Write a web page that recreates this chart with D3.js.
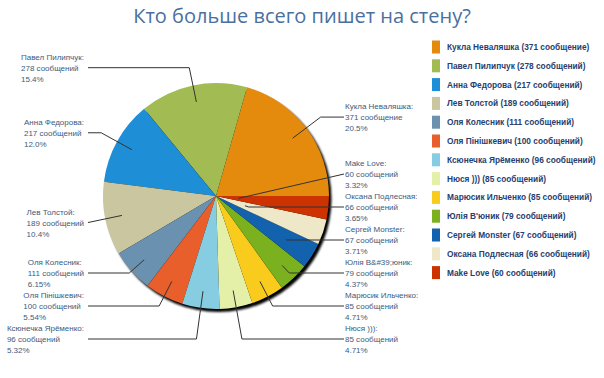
<!DOCTYPE html>
<html>
<head>
<meta charset="utf-8">
<script src="https://cdn.jsdelivr.net/npm/d3@7"></script>
<style>
  body { margin: 0; background: #fff; }
</style>
</head>
<body>
<div id="chart"></div>
<script>
// Chart data
const title = "Кто больше всего пишет на стену?";
const names = ["Кукла Неваляшка", "Павел Пилипчук", "Анна Федорова", "Лев Толстой", "Оля Колесник",
  "Оля Пінішкевич", "Ксюнечка Ярёменко", "Нюся )))", "Марюсик Ильченко", "Юлія В'юник",
  "Сергей Monster", "Оксана Подлесная", "Make Love"];
const counts = [371, 278, 217, 189, 111, 100, 96, 85, 85, 79, 67, 66, 60];
const colors = ["#e48b0d", "#a2bb53", "#1e8fd6", "#c9c6a0", "#6a92b0", "#e95f2b", "#86cde2",
  "#e4f0a8", "#f8cb1c", "#7bb11e", "#1262ae", "#eee8c8", "#cc3300"];

// Layout
const width = 604, height = 378;
const cx = 216, cy = 196, radius = 113;
const lineGap = 11, labelGap = 33, labelMaxY = 339;
const anchorOverride = { "Сергей Monster": 0.73, "Оксана Подлесная": 0.27, "Make Love": 0.2 };

const svg = d3.select("#chart").append("svg")
  .attr("width", width)
  .attr("height", height)
  .style("font-family", "'Liberation Sans', Arial, sans-serif");

// Drop shadow under the pie.
const filter = svg.append("defs").append("filter")
  .attr("id", "shadow")
  .attr("x", "-20%").attr("y", "-20%").attr("width", "140%").attr("height", "140%");
filter.append("feGaussianBlur").attr("stdDeviation", 1);

// Title
svg.append("text")
  .attr("x", 302)
  .attr("y", 23)
  .attr("text-anchor", "middle")
  .style("font-family", "'Open Sans', sans-serif")
  .style("font-size", "20px")
  .style("fill", "#4a70a0")
  .text(title);

const data = names.map((n, i) => ({ name: n, count: counts[i], color: colors[i] }));
const total = d3.sum(counts);

// Percent shown with 3 significant digits, truncated.
function pctText(v) {
  const p = v / total * 100;
  const digits = p >= 10 ? 1 : 2;
  const f = Math.pow(10, digits);
  return (Math.floor(p * f + 1e-9) / f).toFixed(digits) + "%";
}
function unit(v) {
  return (v % 10 === 1 && v % 100 !== 11) ? "сообщение" : "сообщений";
}

// Counter-clockwise from 3 o'clock.
const pie = d3.pie()
  .value(d => d.count)
  .sort(null)
  .startAngle(Math.PI / 2)
  .endAngle(Math.PI / 2 - 2 * Math.PI);

const arcs = pie(data);
const arc = d3.arc().innerRadius(0).outerRadius(radius);

const g = svg.append("g").attr("transform", `translate(${cx},${cy})`);

g.append("circle")
  .attr("cx", 2.5)
  .attr("cy", 3)
  .attr("r", radius)
  .attr("fill", "#000")
  .attr("filter", "url(#shadow)");

g.selectAll("path.slice")
  .data(arcs)
  .enter()
  .append("path")
  .attr("class", "slice")
  .attr("d", arc)
  .attr("fill", d => d.data.color);

// Label placement: target y from angle, then resolve overlaps per side.
const labels = arcs.map(d => {
  const a = (d.startAngle + d.endAngle) / 2;
  const ux = Math.sin(a), uy = -Math.cos(a);
  const k = anchorOverride[d.data.name] || 0.85;
  return {
    d: d,
    ux: ux, uy: uy,
    ax: cx + ux * radius * k,
    ay: cy + uy * radius * k,
    side: ux >= 0 ? "right" : "left",
    target: cy + uy * radius * 1.16
  };
});

function resolve(items) {
  items.sort((a, b) => a.target - b.target);
  let groups = items.map(d => ({ items: [d] }));
  function place(gr) {
    const n = gr.items.length;
    const mean = d3.mean(gr.items, d => d.target);
    let top = mean - (n - 1) * labelGap / 2;
    if (top + (n - 1) * labelGap > labelMaxY) top = labelMaxY - (n - 1) * labelGap;
    gr.top = top;
    gr.bottom = top + (n - 1) * labelGap;
  }
  groups.forEach(place);
  let merged = true;
  while (merged) {
    merged = false;
    for (let i = 0; i < groups.length - 1; i++) {
      if (groups[i].bottom + labelGap > groups[i + 1].top) {
        groups[i].items = groups[i].items.concat(groups[i + 1].items);
        groups.splice(i + 1, 1);
        place(groups[i]);
        merged = true;
        break;
      }
    }
  }
  groups.forEach(gr => gr.items.forEach((d, j) => { d.y = gr.top + j * labelGap; }));
}
resolve(labels.filter(d => d.side === "right"));
resolve(labels.filter(d => d.side === "left"));

const labelG = svg.append("g")
  .style("font-size", "8px")
  .style("fill", "#3d5a7c");

labels.forEach(l => {
  const lines = [l.d.data.name.replace(/'/g, "&#39;") + ":",
    l.d.data.count + " " + unit(l.d.data.count),
    pctText(l.d.data.count)];
  const t = labelG.append("text");
  lines.forEach((s, j) => {
    t.append("tspan")
      .attr("y", l.y + (j - 1) * lineGap + 3)
      .text(s);
  });
  let lx;
  if (l.side === "right") {
    lx = 344;
    t.selectAll("tspan").attr("x", 345);
  } else {
    lx = 88;
    const w = d3.max(t.selectAll("tspan").nodes(), n => n.getComputedTextLength());
    t.selectAll("tspan").attr("x", 84 - w);
  }
  // Leader: radially out to the label's line, then across.
  const pts = [[l.ax, l.ay]];
  const s = (l.y - l.ay) / l.uy;
  const ex = l.ax + l.ux * s;
  const inside = l.side === "right" ? ex < lx : ex > lx;
  if (s > 0 && inside) pts.push([ex, l.y]);
  pts.push([lx, l.y]);
  svg.append("path")
    .attr("d", d3.line()(pts))
    .attr("fill", "none")
    .attr("stroke", "#333")
    .attr("stroke-width", 1);
});

// Legend
const legend = svg.append("g")
  .attr("transform", "translate(432,47)");
const rows = legend.selectAll("g")
  .data(data)
  .enter()
  .append("g")
  .attr("transform", (d, i) => `translate(0,${i * 18.8})`);
rows.append("rect")
  .attr("x", 0)
  .attr("y", -6.5)
  .attr("width", 8)
  .attr("height", 13)
  .attr("fill", d => d.color);
rows.append("text")
  .attr("x", 15)
  .attr("y", 3)
  .style("font-size", "8.3px")
  .style("font-weight", "bold")
  .style("fill", "#27406e")
  .text(d => `${d.name} (${d.count} ${unit(d.count)})`);
</script>
</body>
</html>
